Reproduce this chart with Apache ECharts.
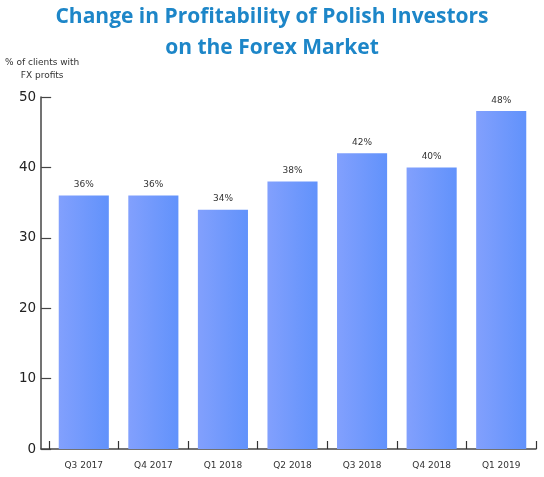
<!DOCTYPE html>
<html><head><meta charset="utf-8">
<script src="https://cdn.jsdelivr.net/npm/echarts@6/dist/echarts.min.js"></script>
<style>html,body{margin:0;padding:0;background:#fff}#c{width:544px;height:477px}</style>
</head><body><div id="c"></div>
<script>
const categories = ['Q3 2017','Q4 2017','Q1 2018','Q2 2018','Q3 2018','Q4 2018','Q1 2019'];
const profitShare = [36, 36, 34, 38, 42, 40, 48];
const yTicks = [0, 10, 20, 30, 40, 50];
const titleText = 'Change in Profitability of Polish Investors\non the Forex Market';
const yName = '% of clients with\nFX profits';

const chart = echarts.init(document.getElementById('c'));
chart.setOption({
  backgroundColor: '#fff',
  animation: false,
  title: {
    text: titleText, left: 'center', top: -3,
    textStyle: { fontFamily: 'Open Sans', fontWeight: 'bold', fontSize: 21, color: '#1d86c8', lineHeight: 31 }
  },
  grid: [
    { left: 39, right: 8, top: 97, bottom: 28 },
    { left: 49, right: 8, top: 97, bottom: 28 }
  ],
  xAxis: [
    { gridIndex: 0, type: 'category', data: [''], axisLine: { lineStyle: { color: '#444', width: 1.5 } },
      axisTick: { show: false }, axisLabel: { show: false } },
    { gridIndex: 1, type: 'category', data: categories,
      axisLine: { show: false },
      axisTick: { show: true, inside: true, length: 8, alignWithLabel: false, lineStyle: { color: '#333', width: 1.2 } },
      axisLabel: { margin: 12, fontFamily: 'DejaVu Sans', fontSize: 9, color: '#333' } }
  ],
  yAxis: [
    { gridIndex: 0, type: 'value', min: 0, max: 50, interval: 10,
      name: yName, nameLocation: 'end', nameGap: 15,
      nameTextStyle: { fontFamily: 'DejaVu Sans', fontSize: 9, color: '#333', lineHeight: 13, align: 'center', padding: [0, 0, 0, 2] },
      axisLine: { show: true, lineStyle: { color: '#444', width: 1.5 } },
      axisTick: { show: true, inside: true, length: 10, lineStyle: { color: '#444', width: 1.2 } },
      splitLine: { show: false },
      axisLabel: { margin: 5, fontFamily: 'DejaVu Sans', fontSize: 13.5, color: '#222',
        formatter: v => yTicks.includes(v) ? String(v) : '' } },
    { gridIndex: 1, type: 'value', min: 0, max: 50, interval: 10, show: false, splitLine: { show: false } }
  ],
  series: [{
    type: 'bar', xAxisIndex: 1, yAxisIndex: 1, data: profitShare,
    barCategoryGap: '28%',
    itemStyle: { color: new echarts.graphic.LinearGradient(0, 0, 1, 0, [
      { offset: 0, color: '#82a0fd' }, { offset: 1, color: '#6192fb' }]) },
    label: { show: true, position: 'top', distance: 6, formatter: '{c}%',
      fontFamily: 'DejaVu Sans', fontSize: 9, color: '#333' }
  }]
});
</script></body></html>
